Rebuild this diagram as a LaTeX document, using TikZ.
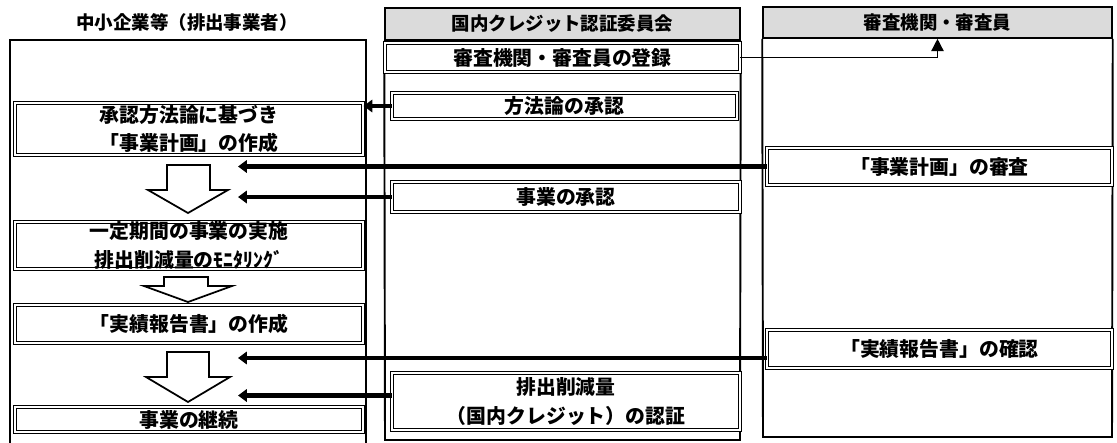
\documentclass[tikz,border=0pt]{standalone}
\usepackage{fontspec}
\newfontfamily\jp{Noto Sans CJK JP}
\usetikzlibrary{arrows.meta,calc}
\tikzset{
  col/.style={draw, line width=1.1pt},
  hdr/.style={draw, line width=0.9pt, fill=gray!28, inner sep=0pt,
    font=\jp\bfseries\fontsize{10.5}{12}\selectfont},
  ttl/.style={inner sep=0pt, font=\jp\bfseries\fontsize{10.5}{12}\selectfont},
  box/.style={draw, line width=0.6pt, double, double distance=1.4pt, fill=white,
    inner sep=0pt, align=center, font=\jp\bfseries\fontsize{11.3}{16}\selectfont},
  flow/.style={line width=2.4pt, -{Triangle[length=5pt,width=7pt]}},
  thinflow/.style={line width=0.8pt, -{Triangle[length=7pt,width=7pt]}},
  blk/.style={draw, line width=1pt, fill=white, line join=miter},
}
\begin{document}
\begin{tikzpicture}[x=0.02cm, y=-0.02cm]
\useasboundingbox (0,0) rectangle (1117,443);
\fill[white] (0,0) rectangle (1117,443);

% headers and titles
\node[ttl] (ttlL) at (187,22) {中小企業等（排出事業者）};
\node[hdr, minimum width=7.1cm, minimum height=0.64cm] (hdrM) at (562.5,24) {国内クレジット認証委員会};
\node[hdr, minimum width=6.98cm, minimum height=0.62cm] (hdrR) at (937.5,22.5) {審査機関・審査員};

% column bodies
\draw[col] (10,443) |- (366,40) -- (366,443);
\draw[col] (hdrM.south west) -- (385,440) -- (740,440) -- (hdrM.south east);
\draw[col] (hdrR.south west) -- (763,437) -- (1112,437) -- (hdrR.south east);

% left column boxes
\node[box, minimum width=6.96cm, minimum height=1.04cm] (plan) at (189,129) {承認方法論に基づき\\「事業計画」の作成};
\node[box, minimum width=6.96cm, minimum height=0.9cm] (impl) at (189,245.5) {一定期間の事業の実施\\排出削減量のﾓﾆﾀﾘﾝｸﾞ};
\node[box, minimum width=6.96cm, minimum height=0.76cm] (report) at (189,324) {「実績報告書」の作成};
\node[box, minimum width=6.96cm, minimum height=0.5cm] (cont) at (189,419.5) {事業の継続};

% middle column boxes
\node[box, minimum width=7.1cm, minimum height=0.58cm] (reg) at (562.5,57.5) {審査機関・審査員の登録};
\node[box, minimum width=6.9cm, minimum height=0.52cm] (method) at (564.5,106) {方法論の承認};
\node[box, minimum width=6.96cm, minimum height=0.6cm] (approve) at (566,197) {事業の承認};
\node[box, minimum width=6.96cm, minimum height=1.14cm] (certify) at (566,401.5) {排出削減量\\（国内クレジット）の認証};

% right column boxes
\node[box, minimum width=6.9cm, minimum height=0.74cm] (review) at (939.5,166.5) {「事業計画」の審査};
\node[box, minimum width=6.9cm, minimum height=0.76cm] (confirm) at (939.5,349) {「実績報告書」の確認};

% hollow block arrows in the left column
\draw[blk] (167,165) -- (210,165) -- (210,190) -- (228,190) -- (188,213) -- (148,190) -- (167,190) -- cycle;
\draw[blk] (164,277) -- (208,277) -- (208,286) -- (232,286) -- (188,302) -- (144,286) -- (164,286) -- cycle;
\draw[blk] (167,352) -- (209,352) -- (209,377) -- (230,377) -- (188,402) -- (146,377) -- (167,377) -- cycle;

% connectors
\coordinate (ax) at (238,0);
\draw[thinflow] (reg.east) -| (hdrR.south);
\draw[flow] (method.west) -- (method.west -| plan.east);
\draw[flow] (review.west) -- (review.west -| ax);
\draw[flow] (approve.west) -- (approve.west -| ax);
\draw[flow] ([yshift=-0.18cm]confirm.west) -- ([yshift=-0.18cm]confirm.west -| ax);
\draw[flow] ([yshift=0.12cm]certify.west) -- ([yshift=0.12cm]certify.west -| ax);
\end{tikzpicture}
\end{document}
